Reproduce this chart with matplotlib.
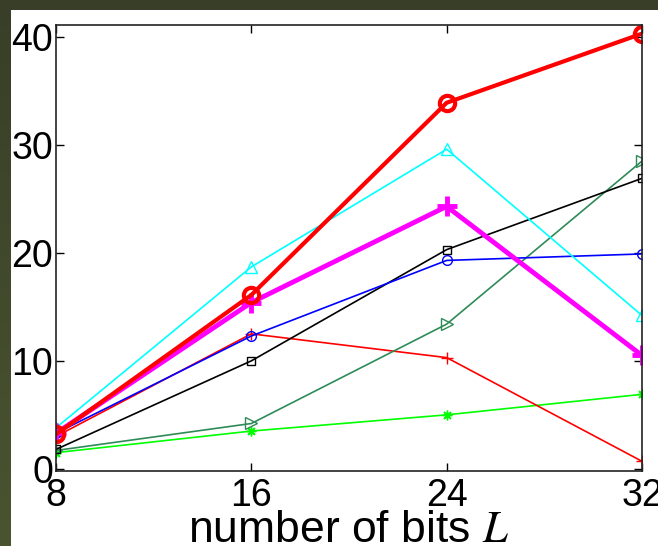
import matplotlib
matplotlib.use('Agg')
import matplotlib.pyplot as plt
import numpy as np

plt.rcParams['font.family'] = ['Liberation Sans', 'DejaVu Sans']
plt.rcParams['mathtext.fontset'] = 'stix'

bits = [8, 16, 24, 32]

red_thick = [3.2, 16.1, 33.9, 40.3]
cyan_tri = [3.8, 18.7, 29.6, 14.2]
magenta_plus = [3.3, 15.4, 24.3, 10.5]
blue_circ = [3.3, 12.3, 19.3, 19.9]
black_sq = [1.8, 10.0, 20.3, 26.9]
seagreen_tri = [1.7, 4.2, 13.4, 28.5]
red_plus = [3.0, 12.5, 10.3, 0.7]
lime_star = [1.5, 3.5, 5.0, 6.9]

xticks = [8, 16, 24, 32]
yticks = [0, 10, 20, 30, 40]

fig = plt.figure(figsize=(6.58, 5.46), dpi=100, facecolor='white')

# dark slide border on the left and top
bg = fig.add_axes([0, 0, 1, 1], zorder=-10)
bg.set_xlim(0, 658)
bg.set_ylim(546, 0)
bg.axis('off')
grad = np.linspace(0, 1, 256).reshape(-1, 1)
cmap = matplotlib.colors.LinearSegmentedColormap.from_list('strip', ['#393e28', '#4a5430'])
bg.imshow(grad, cmap=cmap, extent=[0, 11, 546, 0], aspect='auto')
bg.add_patch(plt.Rectangle((0, 0), 658, 10, color='#393e28', lw=0))

ax = fig.add_axes([56 / 658, 1 - 471 / 546, 586 / 658, 446 / 546])

# asterisk marker: + and x overlaid
ax.plot(bits, lime_star, '-', marker=(8, 2, 0), color='#00ff00', lw=1.2, ms=7, mew=1)
ax.plot(bits, red_plus, '-+', color='#ff0000', lw=1.2, ms=8, mew=1)
ax.plot(bits, seagreen_tri, '->', color='#2e8b57', lw=1.2, ms=8, mfc='none', mew=1)
ax.plot(bits, black_sq, '-s', color='black', lw=1.2, ms=6, mfc='none', mew=1)
ax.plot(bits, blue_circ, '-o', color='#0000ff', lw=1.2, ms=7, mfc='none', mew=1)
ax.plot(bits, cyan_tri, '-^', color='#00ffff', lw=1.2, ms=8, mfc='none', mew=1)
ax.plot(bits, magenta_plus, '-+', color='#ff00ff', lw=3.5, ms=14, mew=3.5)
ax.plot(bits, red_thick, '-o', color='#ff0000', lw=3, ms=11, mfc='none', mew=3)

ax.set_xlim(8, 32)
ax.set_ylim(-0.2, 41.1)
ax.set_xticks(xticks)
ax.set_yticks(yticks)
ax.tick_params(direction='in', length=6, width=1, labelsize=27, top=True, right=True)
ax.tick_params(axis='x', pad=5)
ax.tick_params(axis='y', pad=2)
for sp in ax.spines.values():
    sp.set_linewidth(1.2)
    sp.set_color('#222222')
ax.set_xlabel('number of bits $L$', fontsize=32, va='baseline')
ax.xaxis.set_label_coords(0.5, -71 / 446)

fig.savefig('out.png', dpi=100, facecolor='white')
